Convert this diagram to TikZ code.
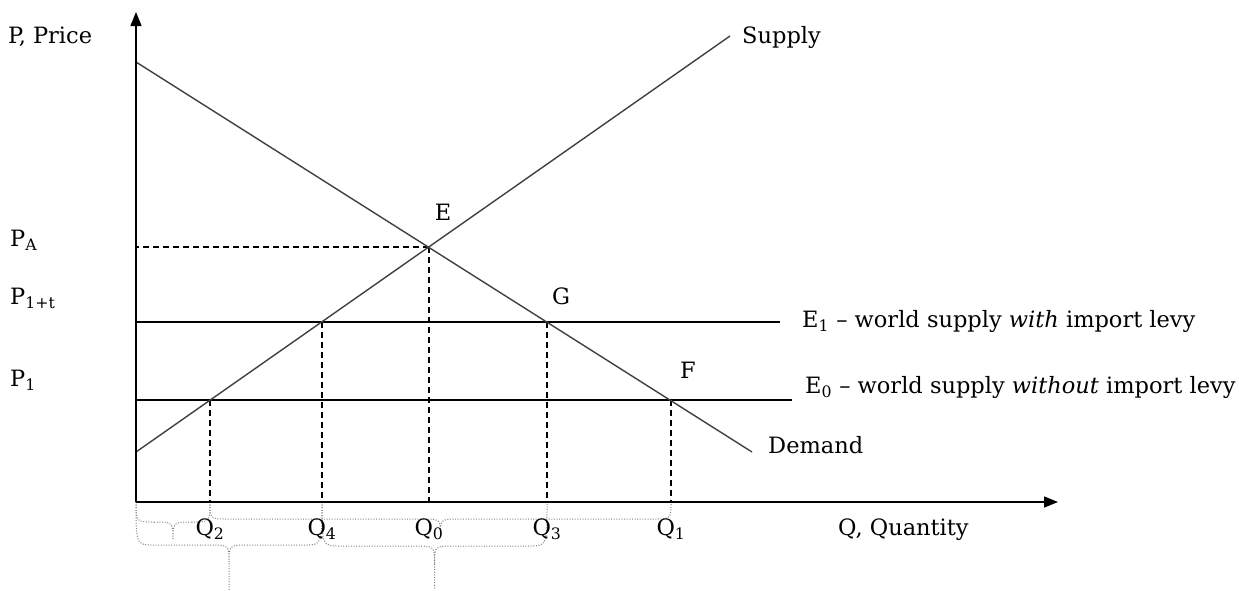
\documentclass[tikz,border=0pt]{standalone}
\usepackage{fontspec}
\setmainfont{DejaVu Serif}
\usetikzlibrary{arrows.meta, positioning}

% under-axis brace: from x #1 to x #2, bar at y #3, tip at y #4
\newcommand{\qbrace}[4]{%
  \draw[bracepath] (#1,502) .. controls (#1,#3) .. ({#1+18},#3)
    -- ({(#1+#2)/2-20},#3) .. controls ({(#1+#2)/2},#3) .. ({(#1+#2)/2},{min(#3+18,#4)})
    .. controls ({(#1+#2)/2},#3) .. ({(#1+#2)/2+20},#3)
    -- ({#2-18},#3) .. controls (#2,#3) .. (#2,502)
    ({(#1+#2)/2},{min(#3+18,#4)}) -- ({(#1+#2)/2},#4);}

\begin{document}
\begin{tikzpicture}[x=1pt, y=-1pt,
    axis/.style={line width=1.4pt, -{Triangle[length=14pt,width=11pt]}},
    curve/.style={line width=1.4pt, black!75},
    level/.style={line width=1.3pt},
    guide/.style={line width=1.2pt, dash pattern=on 6pt off 4pt},
    bracepath/.style={black!50, line width=1pt, dash pattern=on 1pt off 1.6pt},
    lbl/.style={inner sep=0pt, anchor=base west, font=\fontsize{22.5}{26}\selectfont},
    ptlbl/.style={inner sep=0pt, anchor=base, font=\fontsize{22.5}{26}\selectfont}
]
    \useasboundingbox (0,0) rectangle (1239,590);

    \coordinate (O) at (136,502);
    \coordinate (ytop) at (136,12);
    \coordinate (xend) at (1058,502);
    \coordinate (dtop) at (136,62);
    \coordinate (dend) at (752,452);
    \coordinate (sbot) at (136,452);
    \coordinate (send) at (730,36);
    \coordinate (E) at (429,247);
    \coordinate (G) at (547,322);
    \coordinate (F) at (671,400);
    \coordinate (S1) at (322,322);
    \coordinate (S0) at (210,400);
    \coordinate (e1end) at (780,322);
    \coordinate (e0end) at (792,400);

    % braces under the quantity axis
    \qbrace{136}{210}{522}{540}
    \qbrace{136}{322}{545}{590}
    \qbrace{210}{671}{519}{535}
    \qbrace{322}{547}{546}{590}

    % dashed guides
    \draw[guide] (E) -- (E -| O);
    \foreach \p in {S0, S1, E, G, F}
        \draw[guide] (\p) -- (\p |- O);

    % world supply levels
    \draw[level] (G -| O) -- (e1end);
    \draw[level] (F -| O) -- (e0end);

    % demand and supply
    \draw[curve] (dtop) -- (dend);
    \draw[curve] (sbot) -- (send);

    % axes
    \draw[axis] (O) -- (ytop);
    \draw[axis] (O) -- (xend);

    % labels
    \node[lbl] (pprice) at (8,43) {P, Price};
    \node[lbl] (pa) at (10,246) {P\textsubscript{A}};
    \node[lbl] (p1t) at (10,304) {P\textsubscript{1+t}};
    \node[lbl] (p1) at (10,386) {P\textsubscript{1}};
    \node[lbl] (supply) at (742,43) {Supply};
    \node[lbl] (e1lbl) at (802,327) {E\textsubscript{1} -- world supply \textit{with} import levy};
    \node[lbl] (e0lbl) at (805,393) {E\textsubscript{0} -- world supply \textit{without} import levy};
    \node[lbl] (demand) at (768,453) {Demand};
    \node[ptlbl] (elbl) at (443,220) {E};
    \node[ptlbl] (glbl) at (561,304) {G};
    \node[ptlbl] (flbl) at (688,378) {F};
    \node[ptlbl] (q2) at (210,535) {Q\textsubscript{2}};
    \node[ptlbl] (q4) at (322,535) {Q\textsubscript{4}};
    \node[ptlbl] (q0) at (429,535) {Q\textsubscript{0}};
    \node[ptlbl] (q3) at (547,535) {Q\textsubscript{3}};
    \node[ptlbl] (q1) at (671,535) {Q\textsubscript{1}};
    \node[lbl] (qquant) at (838,535) {Q, Quantity};
\end{tikzpicture}
\end{document}
